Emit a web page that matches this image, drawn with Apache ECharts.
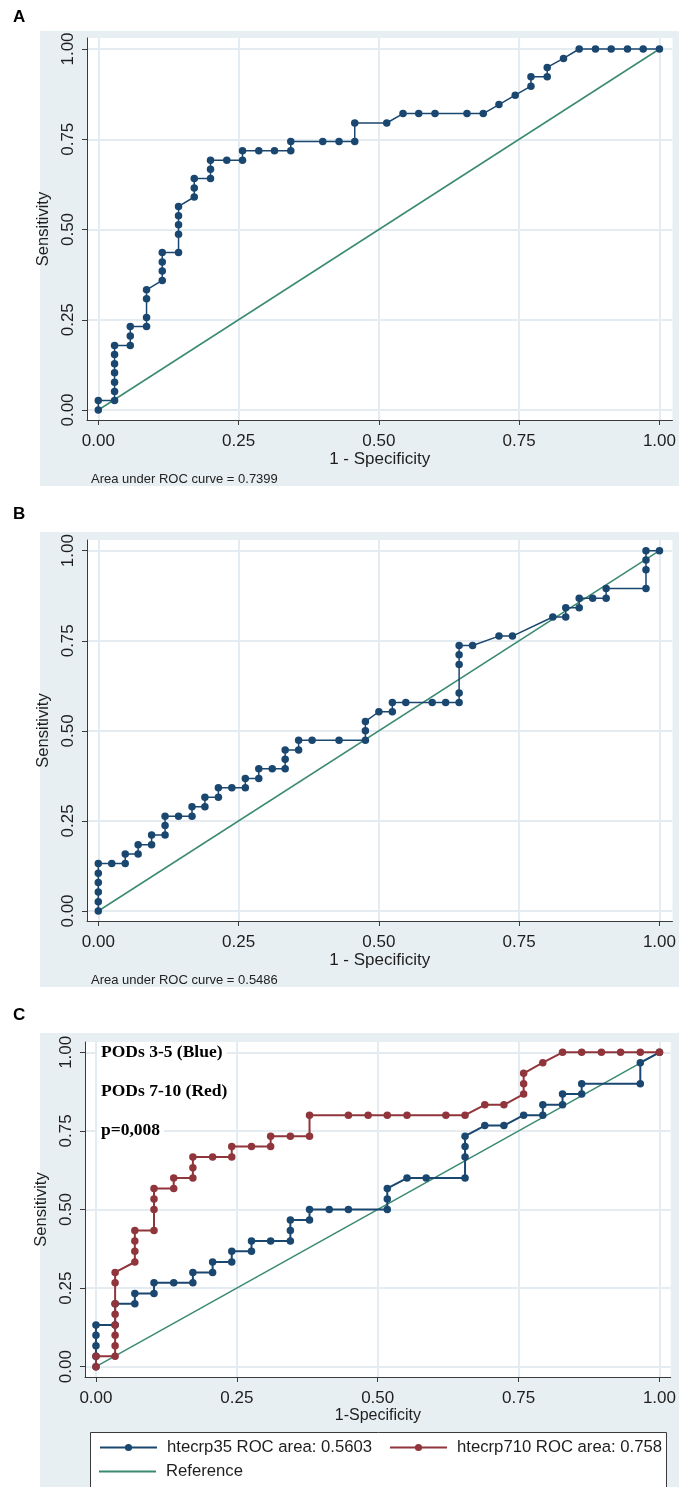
<!DOCTYPE html>
<html>
<head>
<meta charset="utf-8">
<script src="https://cdn.jsdelivr.net/npm/echarts@6/dist/echarts.min.js"></script>
<style>
html,body{margin:0;padding:0;background:#ffffff;}
#chart{width:679px;height:1487px;}
</style>
</head>
<body>
<div id="chart"></div>
<script>
// ---------------- DATA ----------------
const tickValues = [0, 0.25, 0.5, 0.75, 1];
const panelLetters = ['A', 'B', 'C'];
const aucLabels = ['Area under ROC curve = 0.7399', 'Area under ROC curve = 0.5486'];
const xTitles = ['1 - Specificity', '1 - Specificity', '1-Specificity'];
const yTitle = 'Sensitivity';
const annotations = ['PODs 3-5 (Blue)', 'PODs 7-10 (Red)', 'p=0,008'];
const legendNames = ['htecrp35 ROC area: 0.5603', 'htecrp710 ROC area: 0.758', 'Reference'];
const referenceFpr = [0, 1];
const referenceSens = [0, 1];

// Panel A
const aFpr = [0,0,0.029,0.029,0.029,0.029,0.029,0.029,0.029,0.057,0.057,0.057,0.086,0.086,0.086,0.086,0.114,0.114,0.114,0.114,0.143,0.143,0.143,0.143,0.143,0.171,0.171,0.171,0.2,0.2,0.2,0.229,0.257,0.257,0.286,0.314,0.343,0.343,0.4,0.429,0.457,0.457,0.514,0.543,0.571,0.6,0.657,0.686,0.714,0.743,0.771,0.771,0.8,0.8,0.829,0.857,0.886,0.914,0.943,0.971,1];
const aSens = [0,0.026,0.026,0.051,0.077,0.103,0.128,0.154,0.179,0.179,0.205,0.231,0.231,0.256,0.308,0.333,0.359,0.385,0.41,0.436,0.436,0.487,0.513,0.538,0.564,0.59,0.615,0.641,0.641,0.667,0.692,0.692,0.692,0.718,0.718,0.718,0.718,0.744,0.744,0.744,0.744,0.795,0.795,0.821,0.821,0.821,0.821,0.821,0.846,0.872,0.897,0.923,0.923,0.949,0.974,1,1,1,1,1,1];

// Panel B
const bFpr = [0,0,0,0,0,0,0.024,0.048,0.048,0.071,0.071,0.095,0.095,0.119,0.119,0.119,0.143,0.167,0.167,0.19,0.19,0.214,0.214,0.238,0.262,0.262,0.286,0.286,0.31,0.333,0.333,0.333,0.357,0.357,0.381,0.429,0.476,0.476,0.476,0.5,0.524,0.524,0.548,0.595,0.619,0.643,0.643,0.643,0.643,0.643,0.667,0.714,0.738,0.81,0.833,0.833,0.857,0.857,0.881,0.905,0.905,0.976,0.976,0.976,0.976,1];
const bSens = [0,0.026,0.053,0.079,0.105,0.132,0.132,0.132,0.158,0.158,0.184,0.184,0.211,0.211,0.237,0.263,0.263,0.263,0.289,0.289,0.316,0.316,0.342,0.342,0.342,0.368,0.368,0.395,0.395,0.395,0.421,0.447,0.447,0.474,0.474,0.474,0.474,0.5,0.526,0.553,0.553,0.579,0.579,0.579,0.579,0.579,0.605,0.684,0.711,0.737,0.737,0.763,0.763,0.816,0.816,0.842,0.842,0.868,0.868,0.868,0.895,0.895,0.947,0.974,1,1];

// Panel C - htecrp35 (blue)
const cBlueFpr = [0,0,0,0,0,0.034,0.034,0.069,0.069,0.103,0.103,0.138,0.172,0.172,0.207,0.207,0.241,0.241,0.276,0.276,0.31,0.345,0.345,0.345,0.379,0.379,0.414,0.448,0.517,0.517,0.517,0.552,0.586,0.655,0.655,0.655,0.655,0.69,0.724,0.759,0.793,0.793,0.828,0.828,0.862,0.862,0.966,0.966,1];
const cBlueSens = [0,0.033,0.067,0.1,0.133,0.133,0.2,0.2,0.233,0.233,0.267,0.267,0.267,0.3,0.3,0.333,0.333,0.367,0.367,0.4,0.4,0.4,0.433,0.467,0.467,0.5,0.5,0.5,0.5,0.533,0.567,0.6,0.6,0.6,0.667,0.7,0.733,0.767,0.767,0.8,0.8,0.833,0.833,0.867,0.867,0.9,0.9,0.967,1];
// Panel C - htecrp710 (red)
const cRedFpr = [0,0,0.034,0.034,0.034,0.034,0.034,0.034,0.034,0.034,0.069,0.069,0.069,0.069,0.103,0.103,0.103,0.103,0.138,0.138,0.172,0.172,0.172,0.207,0.241,0.241,0.276,0.31,0.31,0.345,0.379,0.379,0.448,0.483,0.517,0.552,0.621,0.655,0.69,0.724,0.759,0.759,0.759,0.793,0.828,0.862,0.897,0.931,0.966,1];
const cRedSens = [0,0.033,0.033,0.067,0.1,0.133,0.167,0.2,0.267,0.3,0.333,0.367,0.4,0.433,0.433,0.5,0.533,0.567,0.567,0.6,0.6,0.633,0.667,0.667,0.667,0.7,0.7,0.7,0.733,0.733,0.733,0.8,0.8,0.8,0.8,0.8,0.8,0.8,0.833,0.833,0.867,0.9,0.933,0.967,1,1,1,1,1,1];

// ---------------- LAYOUT / STYLE ----------------
const FONT = "'Liberation Sans', Arial, Helvetica, sans-serif";
const SERIF = "'Liberation Serif', 'Times New Roman', serif";
const NAVY = '#1a476f';
const MAROON = '#90353b';
const REF = '#3a8a70';
const PANEL_BG = '#e8eff2';
const GRID_LINE = '#e4ecf1';
const AXIS = '#3a3a3a';

// pixel layout: panel box, grid rect, pixel positions of data 0 and 1
const layouts = [
  {box:[40,31,639,455], grid:[87,38,586,382], px0:98.3, px1:660, py0:410, py1:49, letterY:17},
  {box:[40,532,639,455], grid:[87,540,586,381], px0:98.3, px1:660, py0:911, py1:550.7, letterY:514},
  {box:[40,1033,639,454], grid:[85,1042,588,335], px0:96, px1:661.7, py0:1366.7, py1:1052.3, letterY:1015}
];

function zip(xs, ys) { return xs.map((x, i) => [x, ys[i]]); }

const grids = [], xAxes = [], yAxes = [], series = [], graphics = [];

layouts.forEach((L, i) => {
  const [gl, gt, gw, gh] = L.grid;
  const xmin = (gl - L.px0) / (L.px1 - L.px0);
  const xmax = (gl + gw - L.px0) / (L.px1 - L.px0);
  const ymin = (L.py0 - (gt + gh)) / (L.py0 - L.py1);
  const ymax = (L.py0 - gt) / (L.py0 - L.py1);
  grids.push({left: gl, top: gt, width: gw, height: gh, show: true, backgroundColor: '#ffffff', borderWidth: 0, containLabel: false});
  xAxes.push({
    type: 'value', gridIndex: i, min: xmin, max: xmax,
    name: xTitles[i], nameLocation: 'middle', nameGap: i === 2 ? 31 : 28,
    nameTextStyle: {fontFamily: FONT, fontSize: i === 2 ? 16 : 17, color: '#1e1e1e'},
    axisLine: {show: true, onZero: false, lineStyle: {color: AXIS, width: 1}},
    axisTick: {show: true, inside: false, length: 5, customValues: tickValues, lineStyle: {color: AXIS}},
    axisLabel: {customValues: tickValues, formatter: v => v.toFixed(2), fontFamily: FONT, fontSize: 17, color: '#1e1e1e', margin: 13},
    splitLine: {show: true, lineStyle: {color: GRID_LINE, width: 2}}
  });
  yAxes.push({
    type: 'value', gridIndex: i, min: ymin, max: ymax,
    name: yTitle, nameLocation: 'middle', nameGap: 29,
    nameTextStyle: {fontFamily: FONT, fontSize: 16.5, color: '#1e1e1e'},
    axisLine: {show: true, onZero: false, lineStyle: {color: AXIS, width: 1}},
    axisTick: {show: true, inside: false, length: 5, customValues: tickValues, lineStyle: {color: AXIS}},
    axisLabel: {customValues: tickValues, rotate: 90, formatter: v => v.toFixed(2), fontFamily: FONT, fontSize: 17, color: '#1e1e1e', margin: 10},
    splitLine: {show: true, lineStyle: {color: GRID_LINE, width: 2}}
  });
  // panel background
  graphics.push({type: 'rect', silent: true, z: -10, shape: {x: L.box[0], y: L.box[1], width: L.box[2], height: L.box[3]}, style: {fill: PANEL_BG}});
  // panel letter
  graphics.push({type: 'text', silent: true, x: 13, y: L.letterY, style: {text: panelLetters[i], font: 'bold 17px ' + FONT, fill: '#000', verticalAlign: 'middle', textVerticalAlign: 'middle'}});
  // reference diagonal
  series.push({
    name: i === 2 ? legendNames[2] : 'Reference ' + panelLetters[i],
    type: 'line', xAxisIndex: i, yAxisIndex: i, data: zip(referenceFpr, referenceSens),
    symbol: 'none', lineStyle: {color: REF, width: 1.5}, itemStyle: {color: REF}, z: 2, silent: true
  });
});

function rocSeries(name, idx, xs, ys, color, width) {
  return {
    name: name, type: 'line', xAxisIndex: idx, yAxisIndex: idx, data: zip(xs, ys),
    symbol: 'circle', symbolSize: 7.5, showAllSymbol: true,
    lineStyle: {color: color, width: width}, itemStyle: {color: color, borderWidth: 0},
    z: 3, silent: true
  };
}
series.push(rocSeries('ROC A', 0, aFpr, aSens, NAVY, 1.5));
series.push(rocSeries('ROC B', 1, bFpr, bSens, NAVY, 1.5));
series.push(rocSeries(legendNames[0], 2, cBlueFpr, cBlueSens, NAVY, 2));
series.push(rocSeries(legendNames[1], 2, cRedFpr, cRedSens, MAROON, 2));

// AUC captions
graphics.push({type: 'text', silent: true, x: 91, y: 479, style: {text: aucLabels[0], font: '13px ' + FONT, fill: '#222', verticalAlign: 'middle', textVerticalAlign: 'middle'}});
graphics.push({type: 'text', silent: true, x: 91, y: 980, style: {text: aucLabels[1], font: '13px ' + FONT, fill: '#222', verticalAlign: 'middle', textVerticalAlign: 'middle'}});

// annotations in panel C
[1052, 1091, 1130].forEach((yy, k) => {
  graphics.push({type: 'text', silent: true, z: 10, x: 97, y: yy, style: {text: annotations[k], font: 'bold 17.5px ' + SERIF, fill: '#000', verticalAlign: 'middle', textVerticalAlign: 'middle', backgroundColor: '#ffffff', padding: [1, 4, 1, 4]}});
});

// legend frame
graphics.push({type: 'rect', silent: true, z: 1, shape: {x: 90.5, y: 1432.5, width: 576, height: 60}, style: {fill: '#ffffff', stroke: '#3a3a3a', lineWidth: 1}});

const option = {
  animation: false,
  backgroundColor: '#ffffff',
  grid: grids,
  xAxis: xAxes,
  yAxis: yAxes,
  series: series,
  graphic: graphics,
  legend: [
    {data: [legendNames[0], legendNames[1]], left: 99, top: 1439, orient: 'horizontal', itemWidth: 57, itemHeight: 9, itemGap: 17, selectedMode: false, padding: 0,
     textStyle: {fontFamily: FONT, fontSize: 16.7, color: '#1e1e1e', padding: [0, 0, 0, 5]}},
    {data: [{name: legendNames[2], icon: 'rect'}], left: 99, top: 1463, itemWidth: 57, itemHeight: 2, selectedMode: false, padding: 0,
     textStyle: {fontFamily: FONT, fontSize: 16.7, color: '#1e1e1e', padding: [0, 0, 0, 5]}}
  ]
};

const chart = echarts.init(document.getElementById('chart'), null, {renderer: 'canvas'});
chart.setOption(option);
</script>
</body>
</html>
